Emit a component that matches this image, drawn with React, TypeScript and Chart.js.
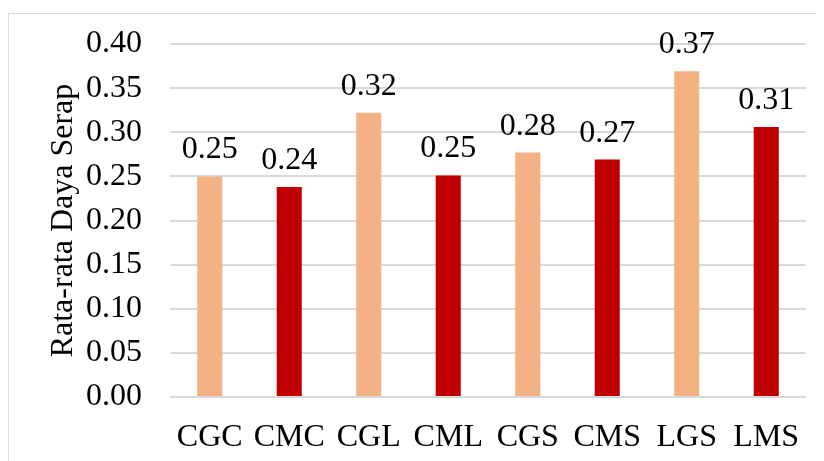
import React, { useEffect, useRef } from "react";
import { Chart, registerables } from "chart.js";

Chart.register(...registerables);

const categories = ["CGC", "CMC", "CGL", "CML", "CGS", "CMS", "LGS", "LMS"];
const values = [0.25, 0.238, 0.322, 0.251, 0.277, 0.269, 0.369, 0.306];
const barColors = ["#F4B183", "#C00000", "#F4B183", "#C00000", "#F4B183", "#C00000", "#F4B183", "#C00000"];
const yTitle = "Rata-rata Daya Serap";
const yMin = 0;
const yMax = 0.4;
const yStep = 0.05;

const FONT = "'Liberation Serif', 'Times New Roman', serif";
const FONT_SIZE = 32;

const valueLabels = {
  id: "valueLabels",
  afterDatasetsDraw(chart: any) {
    const ctx = chart.ctx;
    const meta = chart.getDatasetMeta(0);
    ctx.save();
    ctx.font = `${FONT_SIZE}px ${FONT}`;
    ctx.fillStyle = "#000000";
    ctx.textAlign = "center";
    ctx.textBaseline = "alphabetic";
    meta.data.forEach((bar: any, i: number) => {
      ctx.fillText(values[i].toFixed(2), bar.x, bar.y - 18);
    });
    ctx.restore();
  },
};

export default function App() {
  const ref = useRef<HTMLCanvasElement | null>(null);

  useEffect(() => {
    if (!ref.current) return;
    const chart = new Chart(ref.current, {
      type: "bar",
      data: {
        labels: categories,
        datasets: [
          {
            data: values,
            backgroundColor: barColors,
            borderWidth: 0,
            categoryPercentage: 1,
            barPercentage: 0.315,
          },
        ],
      },
      options: {
        animation: false,
        responsive: false,
        maintainAspectRatio: false,
        layout: { padding: { top: 30, right: 18, left: 0, bottom: 0 } },
        plugins: {
          legend: { display: false },
          tooltip: { enabled: false },
        },
        scales: {
          x: {
            grid: { display: false, drawTicks: false },
            border: { display: false },
            ticks: {
              color: "#000000",
              font: { family: FONT, size: FONT_SIZE },
              padding: 21,
              maxRotation: 0,
              autoSkip: false,
            },
            afterFit(scale: any) {
              scale.height = 64;
              scale.paddingLeft = 0;
              scale.paddingRight = 0;
            },
          },
          y: {
            min: yMin,
            max: yMax,
            grid: { color: "#d9d9d9", lineWidth: 2, drawTicks: false },
            border: { display: false },
            ticks: {
              stepSize: yStep,
              color: "#000000",
              font: { family: FONT, size: FONT_SIZE },
              padding: 28,
              callback: (v: any) => Number(v).toFixed(2),
            },
            title: {
              display: true,
              text: yTitle,
              color: "#000000",
              font: { family: FONT, size: FONT_SIZE },
              padding: { top: 35, bottom: 0 },
            },
            afterFit(scale: any) {
              scale.width = 161;
              scale.paddingTop = 0;
              scale.paddingBottom = 0;
            },
          },
        },
      },
      plugins: [valueLabels],
    });
    return () => chart.destroy();
  }, []);

  return (
    <div style={{ width: 816, height: 453, overflow: "hidden", paddingTop: 5, boxSizing: "border-box" }}>
      <div
        style={{
          border: "1px solid #d9d9d9",
          width: 830,
          height: 470,
          boxSizing: "border-box",
        }}
      >
        <canvas ref={ref} width={815} height={447} style={{ display: "block" }} />
      </div>
    </div>
  );
}
